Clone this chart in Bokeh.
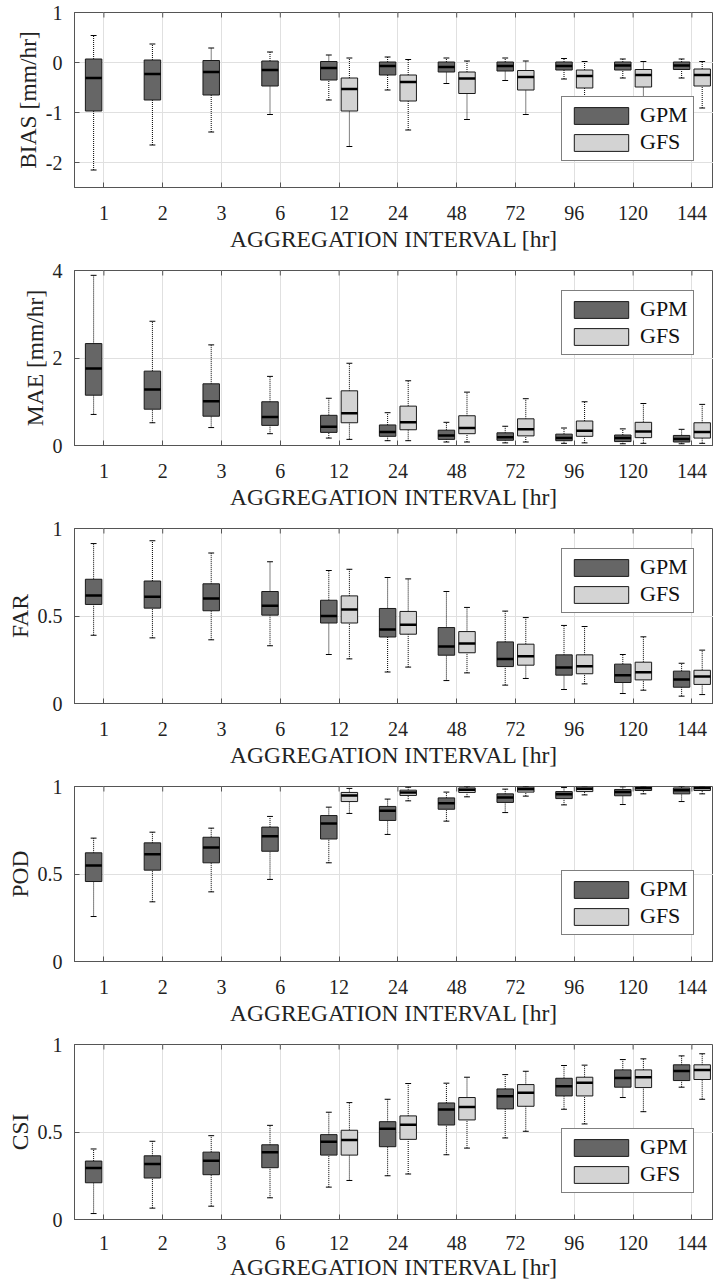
import math
from bokeh.plotting import figure
from bokeh.layouts import column
from bokeh.models import (Range1d, FixedTicker, Legend, LegendItem, ColumnDataSource)
from bokeh.embed import file_html
from bokeh.resources import INLINE

# ---------------- data ----------------
intervals = ["1", "2", "3", "6", "12", "24", "48", "72", "96", "120", "144"]
gfs_intervals = ["12", "24", "48", "72", "96", "120", "144"]

# rows: (lower whisker, Q1, median, Q3, upper whisker)
BIAS_GPM = [(-2.15, -0.97, -0.31, 0.07, 0.54), (-1.65, -0.75, -0.23, 0.05, 0.37),
            (-1.39, -0.65, -0.19, 0.04, 0.29), (-1.04, -0.47, -0.15, 0.03, 0.21),
            (-0.75, -0.35, -0.11, 0.02, 0.15), (-0.55, -0.25, -0.07, 0.01, 0.11),
            (-0.42, -0.19, -0.09, 0.01, 0.09), (-0.36, -0.17, -0.07, 0.01, 0.09),
            (-0.33, -0.15, -0.07, 0.01, 0.08), (-0.31, -0.15, -0.06, 0.01, 0.07),
            (-0.31, -0.14, -0.06, 0.01, 0.07)]
BIAS_GFS = [(-1.68, -0.97, -0.53, -0.31, 0.09), (-1.35, -0.77, -0.39, -0.25, 0.06),
            (-1.14, -0.62, -0.32, -0.19, 0.03), (-1.04, -0.55, -0.29, -0.16, 0.03),
            (-0.93, -0.51, -0.27, -0.15, 0.02), (-0.88, -0.49, -0.25, -0.14, 0.02),
            (-0.91, -0.47, -0.25, -0.13, 0.02)]

MAE_GPM = [(0.71, 1.15, 1.76, 2.33, 3.89), (0.52, 0.83, 1.28, 1.70, 2.84),
           (0.41, 0.67, 1.01, 1.41, 2.30), (0.27, 0.46, 0.65, 1.00, 1.58),
           (0.17, 0.30, 0.43, 0.69, 1.08), (0.11, 0.21, 0.31, 0.47, 0.75),
           (0.08, 0.14, 0.23, 0.35, 0.53), (0.06, 0.12, 0.19, 0.29, 0.44),
           (0.05, 0.11, 0.17, 0.26, 0.40), (0.04, 0.09, 0.17, 0.24, 0.38),
           (0.04, 0.08, 0.15, 0.23, 0.37)]
MAE_GFS = [(0.14, 0.52, 0.74, 1.25, 1.88), (0.11, 0.36, 0.53, 0.90, 1.48),
           (0.08, 0.27, 0.40, 0.68, 1.22), (0.08, 0.22, 0.37, 0.61, 1.07),
           (0.06, 0.21, 0.34, 0.56, 1.00), (0.05, 0.18, 0.32, 0.53, 0.96),
           (0.05, 0.17, 0.31, 0.52, 0.94)]

FAR_GPM = [(0.39, 0.566, 0.617, 0.71, 0.914), (0.375, 0.545, 0.61, 0.70, 0.93),
           (0.364, 0.53, 0.60, 0.684, 0.86), (0.33, 0.505, 0.558, 0.64, 0.81),
           (0.28, 0.46, 0.50, 0.59, 0.76), (0.18, 0.38, 0.423, 0.543, 0.72),
           (0.131, 0.276, 0.326, 0.434, 0.64), (0.105, 0.211, 0.255, 0.352, 0.528),
           (0.08, 0.162, 0.206, 0.278, 0.446), (0.057, 0.12, 0.162, 0.225, 0.28),
           (0.042, 0.093, 0.137, 0.185, 0.23)]
FAR_GFS = [(0.255, 0.46, 0.537, 0.615, 0.767), (0.208, 0.396, 0.45, 0.526, 0.712),
           (0.175, 0.29, 0.343, 0.411, 0.549), (0.143, 0.219, 0.27, 0.339, 0.491),
           (0.112, 0.17, 0.213, 0.278, 0.44), (0.076, 0.135, 0.179, 0.236, 0.381),
           (0.051, 0.109, 0.154, 0.19, 0.305)]

POD_GPM = [(0.257, 0.457, 0.549, 0.621, 0.705), (0.341, 0.522, 0.613, 0.678, 0.739),
           (0.398, 0.564, 0.651, 0.71, 0.762), (0.469, 0.63, 0.716, 0.768, 0.829),
           (0.564, 0.70, 0.789, 0.834, 0.882), (0.726, 0.806, 0.861, 0.886, 0.928),
           (0.802, 0.87, 0.905, 0.935, 0.968), (0.851, 0.909, 0.937, 0.958, 0.985),
           (0.895, 0.931, 0.956, 0.971, 0.994), (0.897, 0.947, 0.968, 0.983, 0.998),
           (0.914, 0.958, 0.979, 0.992, 1.0)]
POD_GFS = [(0.846, 0.914, 0.949, 0.966, 0.989), (0.918, 0.949, 0.966, 0.979, 0.996),
           (0.941, 0.966, 0.981, 0.992, 1.0), (0.945, 0.968, 0.985, 0.996, 1.0),
           (0.952, 0.971, 0.987, 0.998, 1.0), (0.958, 0.977, 0.99, 0.998, 1.0),
           (0.958, 0.977, 0.992, 1.0, 1.0)]

CSI_GPM = [(0.034, 0.21, 0.294, 0.334, 0.403), (0.065, 0.237, 0.317, 0.364, 0.447),
           (0.076, 0.256, 0.336, 0.385, 0.479), (0.124, 0.296, 0.384, 0.427, 0.538),
           (0.185, 0.368, 0.445, 0.485, 0.613), (0.25, 0.416, 0.519, 0.559, 0.687),
           (0.37, 0.54, 0.628, 0.666, 0.779), (0.466, 0.632, 0.704, 0.746, 0.828),
           (0.63, 0.706, 0.761, 0.807, 0.88), (0.697, 0.756, 0.809, 0.855, 0.914),
           (0.756, 0.794, 0.849, 0.884, 0.935)]
CSI_GFS = [(0.223, 0.368, 0.454, 0.51, 0.668), (0.26, 0.458, 0.542, 0.592, 0.777),
           (0.408, 0.569, 0.643, 0.697, 0.813), (0.504, 0.647, 0.725, 0.771, 0.847),
           (0.546, 0.706, 0.782, 0.813, 0.882), (0.616, 0.754, 0.813, 0.855, 0.918),
           (0.687, 0.80, 0.855, 0.884, 0.947)]

panels = [
    ("BIAS [mm/hr]", (-2.5, 1.0), [-2, -1, 0, 1], ["-2", "-1", "0", "1"], BIAS_GPM, BIAS_GFS, 26),
    ("MAE [mm/hr]", (0.0, 4.0), [0, 2, 4], ["0", "2", "4"], MAE_GPM, MAE_GFS, 90),
    ("FAR", (0.0, 1.0), [0, 0.5, 1], ["0", "0.5", "1"], FAR_GPM, FAR_GFS, 90),
    ("POD", (0.0, 1.0), [0, 0.5, 1], ["0", "0.5", "1"], POD_GPM, POD_GFS, 26),
    ("CSI", (0.0, 1.0), [0, 0.5, 1], ["0", "0.5", "1"], CSI_GPM, CSI_GFS, 26),
]

# ---------------- style ----------------
FONT = "Liberation Serif"
GPM_COLOR = "#666666"
GFS_COLOR = "#d3d3d3"
AX_COLOR = "#555555"
OFF = 0.175
BOX_W = 0.28
CAP_W = 0.1
FIG_W = 713
LEFT = 74
FRAME_W = FIG_W - LEFT
UNIT_PX = 58.8


def add_boxes(p, xs, rows, color):
    lo = [r[0] for r in rows]
    q1 = [r[1] for r in rows]
    md = [r[2] for r in rows]
    q3 = [r[3] for r in rows]
    hi = [r[4] for r in rows]
    src = ColumnDataSource(dict(
        x=xs, lo=lo, q1=q1, md=md, q3=q3, hi=hi,
        l=[x - BOX_W / 2 for x in xs], r=[x + BOX_W / 2 for x in xs],
        cl=[x - CAP_W / 2 for x in xs], cr=[x + CAP_W / 2 for x in xs]))
    p.segment("x", "q3", "x", "hi", source=src, line_color="black", line_width=1, line_dash="1 1")
    p.segment("x", "lo", "x", "q1", source=src, line_color="black", line_width=1, line_dash="1 1")
    p.segment("cl", "hi", "cr", "hi", source=src, line_color="black", line_width=1)
    p.segment("cl", "lo", "cr", "lo", source=src, line_color="black", line_width=1)
    box = p.vbar(x="x", width=BOX_W, bottom="q1", top="q3", source=src,
                 fill_color=color, line_color="#1a1a1a", line_width=1)
    p.segment("l", "md", "r", "md", source=src, line_color="black", line_width=2.5)
    return box


figs = []
n = len(panels)
xticks = list(range(1, len(intervals) + 1))
for k, (ylab, yr, yt, ytl, gpm, gfs, leg_b) in enumerate(panels):
    last = (k == n - 1)
    p = figure(width=FIG_W, height=254 if last else 258,
               min_border_left=LEFT, min_border_right=0, min_border_top=12,
               min_border_bottom=67 if last else 71,
               x_range=Range1d(0.5, 0.5 + FRAME_W / UNIT_PX),
               y_range=Range1d(*yr),
               output_backend="svg", toolbar_location=None)
    p.background_fill_color = "white"
    p.border_fill_color = "white"
    p.outline_line_color = AX_COLOR
    p.outline_line_width = 1

    gx = [xticks[i] - OFF for i in range(len(intervals))]
    b1 = add_boxes(p, gx, gpm, GPM_COLOR)
    start = intervals.index(gfs_intervals[0])
    fx = [xticks[start + i] + OFF for i in range(len(gfs_intervals))]
    b2 = add_boxes(p, fx, gfs, GFS_COLOR)

    # inward tick marks along the top edge (half of each dash is clipped by the frame)
    p.scatter(x=xticks, y=[yr[1]] * len(xticks), marker="dash", angle=math.pi / 2,
              size=10, line_color=AX_COLOR, line_width=1)

    # axes
    p.xaxis.ticker = FixedTicker(ticks=xticks)
    p.xaxis.major_label_overrides = {t: lab for t, lab in zip(xticks, intervals)}
    p.yaxis.ticker = FixedTicker(ticks=yt)
    p.yaxis.major_label_overrides = {t: lab for t, lab in zip(yt, ytl)}
    p.xaxis.axis_label = "AGGREGATION INTERVAL [hr]"
    p.yaxis.axis_label = ylab
    for ax in (p.xaxis[0], p.yaxis[0]):
        ax.axis_line_color = AX_COLOR
        ax.major_tick_line_color = AX_COLOR
        ax.major_tick_in = 5
        ax.major_tick_out = 0
        ax.minor_tick_line_color = None
        ax.major_label_text_font = FONT
        ax.major_label_text_font_size = "20px"
        ax.major_label_text_color = "#222222"
        ax.axis_label_text_font = FONT
        ax.axis_label_text_font_size = "23.5px"
        ax.axis_label_text_font_style = "normal"
        ax.axis_label_text_color = "#222222"
    p.xaxis.major_label_standoff = 16 if last else 18
    p.xaxis.axis_label_standoff = 1 if last else 3
    p.yaxis.major_label_standoff = 12
    p.yaxis.axis_label_standoff = 2

    p.xgrid.ticker = FixedTicker(ticks=xticks)
    p.ygrid.ticker = FixedTicker(ticks=yt)
    p.xgrid.grid_line_color = "#e0e0e0"
    p.ygrid.grid_line_color = "#e0e0e0"

    legend = Legend(items=[LegendItem(label="GPM", renderers=[b1]),
                           LegendItem(label="GFS", renderers=[b2])],
                    location=(487, leg_b), margin=0, padding=5, spacing=1,
                    glyph_width=68, glyph_height=21, label_standoff=5,
                    label_text_font=FONT, label_text_font_size="22px",
                    label_text_color="#111111",
                    border_line_color="black", border_line_width=1,
                    background_fill_color="white", background_fill_alpha=1.0)
    p.add_layout(legend)
    figs.append(p)

layout = column(*figs)
open("out.html", "w").write(file_html(layout, INLINE))
